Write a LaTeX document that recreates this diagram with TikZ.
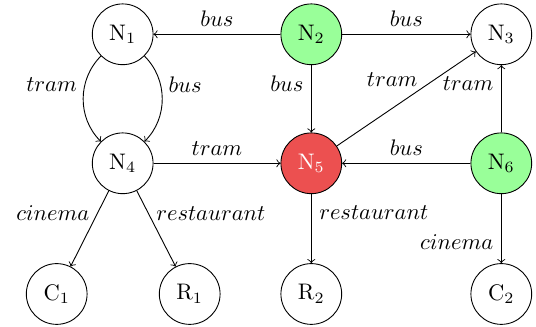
\documentclass[tikz,border=0pt]{standalone}
\begin{document}
\begin{tikzpicture}[x=0.4444pt,y=-0.4444pt,
  st/.style={circle,draw,minimum size=27pt,inner sep=0pt},
  grn/.style={st,fill=green!40},
  rd/.style={st,fill={rgb,255:red,236;green,80;blue,80},text=white},
  lab/.style={font=\itshape},
  >=to]
\useasboundingbox (0,0) rectangle (536,327);
\node[st]  (N1) at (122.7,34.3) {N$_1$};
\node[grn] (N2) at (311.3,34.3) {N$_2$};
\node[st]  (N3) at (501.3,34.3) {N$_3$};
\node[st]  (N4) at (122.7,163.3) {N$_4$};
\node[rd]  (N5) at (311.3,163.3) {N$_5$};
\node[grn] (N6) at (501.3,163.3) {N$_6$};
\node[st]  (C1) at (56.7,294) {C$_1$};
\node[st]  (R1) at (189.7,294) {R$_1$};
\node[st]  (R2) at (311.3,294) {R$_2$};
\node[st]  (C2) at (501.3,294) {C$_2$};

\draw[->] (N2) -- node[above] {$bus$} (N1);
\draw[->] (N2) -- node[above] {$bus$} (N3);
\draw[->] (N2) -- node[pos=0.27,left] {$bus$} (N5);
\draw[->] (N1) to[out=225,in=135] node[pos=0.35,left] {$tram$} (N4);
\draw[->] (N1) to[out=-45,in=45] node[pos=0.35,right] {$bus$} (N4);
\draw[->] (N4) -- node[above] {$tram$} (N5);
\draw[->] (N5) -- node[pos=0.6,above left,inner sep=1pt] {$tram$} (N3);
\draw[->] (N6) -- node[pos=0.73,left] {$tram$} (N3);
\draw[->] (N6) -- node[above] {$bus$} (N5);
\draw[->] (N4) -- node[pos=0.3,left] {$cinema$} (C1);
\draw[->] (N4) -- node[pos=0.3,right] {$restaurant$} (R1);
\draw[->] (N5) -- node[pos=0.27,right] {$restaurant$} (R2);
\draw[->] (N6) -- node[pos=0.7,left] {$cinema$} (C2);
\end{tikzpicture}
\end{document}
